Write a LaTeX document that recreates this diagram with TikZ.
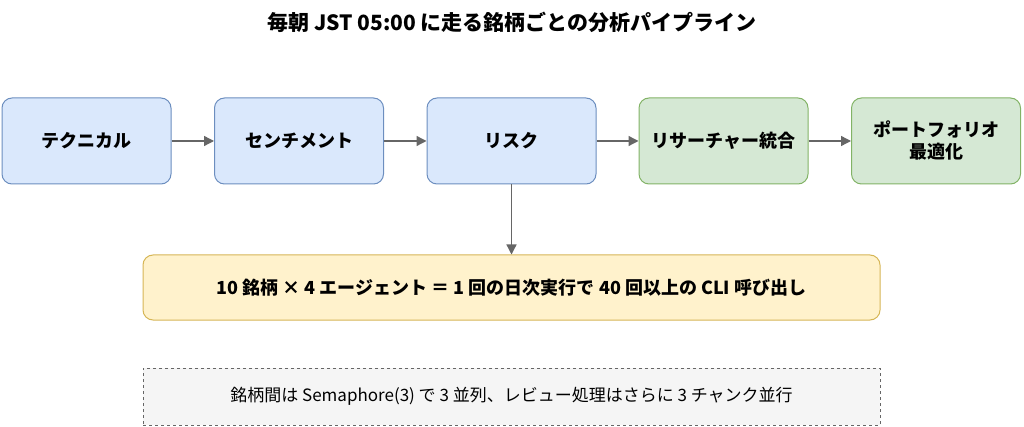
\documentclass[tikz,border=0pt]{standalone}
\usepackage{fontspec}
\setmainfont{Noto Sans CJK JP}
\usetikzlibrary{arrows.meta}
\definecolor{bluefill}{HTML}{DAE8FC}
\definecolor{bluedraw}{HTML}{6C8EBF}
\definecolor{greenfill}{HTML}{D5E8D4}
\definecolor{greendraw}{HTML}{82B366}
\definecolor{yellowfill}{HTML}{FFF2CC}
\definecolor{yellowdraw}{HTML}{D6B656}
\definecolor{grayfill}{HTML}{F5F5F5}
\definecolor{graydraw}{HTML}{666666}
\tikzset{
    stage/.style={draw=bluedraw, fill=bluefill, rounded corners=10pt, line width=1pt,
        minimum width=169pt, minimum height=86pt, align=center,
        font=\fontsize{18}{22}\selectfont\bfseries},
    merge/.style={stage, draw=greendraw, fill=greenfill},
    flow/.style={-{Triangle[length=10pt,width=10pt]}, draw=graydraw, line width=1.3pt},
}
\begin{document}
\begin{tikzpicture}[x=1pt, y=1pt]
    \useasboundingbox (0, 0) rectangle (1024, -427);

    \node (title) at (512, -22) {\fontsize{21}{25}\selectfont\bfseries 毎朝 JST 05:00 に走る銘柄ごとの分析パイプライン};

    \node [stage] (S1) at (86.5, -141) {テクニカル};
    \node [stage] (S2) at (299, -141) {センチメント};
    \node [stage] (S3) at (511.5, -141) {リスク};
    \node [merge] (S4) at (723.5, -141) {リサーチャー統合};
    \node [merge] (S5) at (936, -141) {ポートフォリオ\\最適化};

    \node [stage, draw=yellowdraw, fill=yellowfill, minimum width=737pt, minimum height=65pt] (calls) at (511.5, -287.5)
        {10 銘柄 × 4 エージェント ＝ 1 回の日次実行で 40 回以上の CLI 呼び出し};
    \node [draw=graydraw, fill=grayfill, dashed, line width=1pt, minimum width=737pt, minimum height=57pt,
        font=\fontsize{17}{20}\selectfont] (note) at (511.5, -396.5)
        {銘柄間は Semaphore(3) で 3 並列、レビュー処理はさらに 3 チャンク並行};

    \draw [flow] (S1) -- (S2);
    \draw [flow] (S2) -- (S3);
    \draw [flow] (S3) -- (S4);
    \draw [flow] (S4) -- (S5);
    \draw [flow] (S3) -- (calls);
\end{tikzpicture}
\end{document}
